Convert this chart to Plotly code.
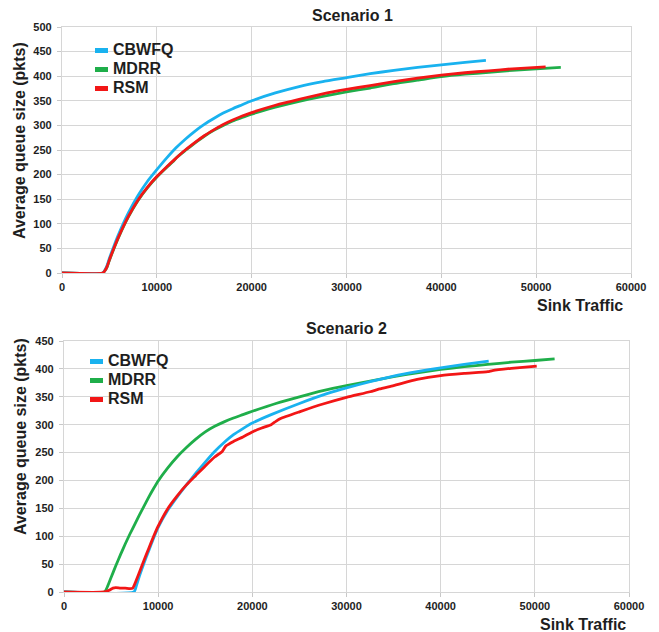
import plotly.graph_objects as go

# ---------------- data ----------------
series_names = ["CBWFQ", "MDRR", "RSM"]
series_colors = ["#19b2ef", "#1fae4a", "#f21616"]

# Scenario 1
s1_cbwfq_x = [0, 4300, 4500, 4750, 5000, 5500, 6000, 7000, 8000, 9000, 10000, 11000, 12000, 13000, 14000,
              15000, 16000, 17000, 18000, 19000, 20000, 22500, 25000, 27500, 30000, 32500, 35000, 37500,
              40000, 42500, 44700]
s1_cbwfq_y = [0, 0, 5, 15, 30, 56, 80, 122, 157, 186, 210, 233, 254, 272, 288,
              302, 314, 325, 334, 342, 350, 366, 379, 389, 397, 405, 412, 418,
              423, 428, 432]

s1_mdrr_x = [0, 4300, 4500, 4750, 5000, 5500, 6000, 7000, 8000, 9000, 10000, 11000, 11800, 12100, 13000,
             14000, 15000, 16000, 17000, 18000, 19000, 20000, 22500, 25000, 27500, 30000, 32500, 35000,
             37500, 40000, 42500, 45000, 47500, 50000, 52600]
s1_mdrr_y = [0, 0, 4, 12, 26, 51, 74, 114, 147, 173, 195, 214, 228, 235, 249,
             264, 278, 290, 300, 309, 316, 323, 337, 349, 359, 368, 376, 385,
             392, 399, 404, 408, 412, 415, 418]

s1_rsm_x = [0, 4300, 4500, 4750, 5000, 5500, 6000, 7000, 8000, 9000, 10000, 11000, 12000, 13000, 14000,
            15000, 16000, 17000, 18000, 19000, 20000, 22500, 25000, 27500, 30000, 32500, 35000, 37500,
            40000, 42500, 45000, 47500, 51000]
s1_rsm_y = [0, 0, 4, 13, 27, 52, 75, 115, 148, 174, 196, 215, 233, 250, 265,
            279, 291, 302, 311, 319, 326, 341, 353, 364, 373, 381, 389, 396,
            402, 407, 411, 415, 419]

# Scenario 2
s2_cbwfq_x = [0, 7430, 7700, 8000, 8500, 9000, 9500, 10000, 11000, 12000, 13000, 14000, 15000, 16000,
              17000, 18000, 19000, 20000, 22000, 25000, 28000, 30000, 32500, 35000, 37500, 40000, 42500,
              45100]
s2_cbwfq_y = [0, 0, 12, 28, 52, 74, 96, 116, 146, 170, 192, 213, 233, 252,
              268, 282, 293, 303, 318, 338, 356, 366, 377, 387, 395, 402, 408,
              414]

s2_mdrr_x = [0, 4300, 4600, 5000, 5500, 6000, 6500, 7000, 7500, 8000, 8500, 9000, 9500, 10000, 11000,
             12000, 13000, 14000, 15000, 16000, 17000, 18000, 19000, 20000, 22500, 25000, 27500, 30000,
             32500, 35000, 37500, 40000, 42500, 45000, 47500, 50000, 52100]
s2_mdrr_y = [0, 0, 9, 26, 47, 67, 86, 104, 121, 138, 154, 170, 185, 199, 222,
             242, 259, 274, 287, 297, 305, 312, 318, 324, 338, 350, 361, 370,
             378, 386, 393, 399, 404, 408, 412, 415, 418]

s2_rsm_x = [0, 4300, 4800, 5200, 5500, 6000, 6500, 7000, 7300, 7600, 8000, 8500, 9000, 9500, 10000,
            11000, 12000, 13000, 14000, 15000, 16000, 16800, 17200, 18000, 19000, 20000, 21000, 22000,
            22500, 23000, 25000, 27500, 30000, 32500, 33500, 35000, 37500, 40000, 42500, 45000, 45500,
            47500, 50200]
s2_rsm_y = [0, 0, 3, 7, 8, 7, 7, 6, 7, 18, 35, 57, 78, 99, 118,
            149, 172, 192, 209, 226, 242, 252, 262, 270, 278, 287, 294, 300,
            306, 311, 323, 337, 349, 359, 364, 370, 381, 388, 392, 395, 397,
            401, 405]

x_ticks = [0, 10000, 20000, 30000, 40000, 50000, 60000]

scenario1 = [(s1_cbwfq_x, s1_cbwfq_y), (s1_mdrr_x, s1_mdrr_y), (s1_rsm_x, s1_rsm_y)]
scenario2 = [(s2_cbwfq_x, s2_cbwfq_y), (s2_mdrr_x, s2_mdrr_y), (s2_rsm_x, s2_rsm_y)]

# ---------------- figure ----------------
W, H = 659, 632
FONT = "Liberation Sans, Arial, sans-serif"
GRID = "#d6d6d6"
TXT = "#1e1e1e"

fig = go.Figure()

# draw order: MDRR first, then CBWFQ, then RSM on top (as in reference)
order = [1, 0, 2]
for (data, xa, ya, lg) in [(scenario1, "x", "y", "legend"), (scenario2, "x2", "y2", "legend2")]:
    for i in order:
        xs, ys = data[i]
        fig.add_trace(go.Scatter(x=xs, y=ys, mode="lines", xaxis=xa, yaxis=ya,
                                 line=dict(color=series_colors[i], width=2.8, shape="spline", smoothing=0.5),
                                 showlegend=False, name=series_names[i], hoverinfo="skip"))
    for i in range(3):
        fig.add_trace(go.Scatter(x=[None], y=[None], mode="lines", xaxis=xa, yaxis=ya,
                                 line=dict(color=series_colors[i], width=5, dash="0px,17px,13px,10px"),
                                 name="<span style='font-size:16px'>" + series_names[i] + "</span>",
                                 legend=lg, showlegend=True))


def px2x(p):
    return p / W


def py2y(p):
    return 1 - p / H


axis_common = dict(showgrid=True, gridcolor=GRID, gridwidth=1.3, zeroline=False,
                   showline=True, linecolor=GRID, linewidth=1.3, mirror=True,
                   ticks="outside", ticklen=4, tickcolor="#c8c8c8", tickwidth=1,
                   automargin=False,
                   tickfont=dict(family=FONT, size=11, color=TXT, weight="bold"))

fig.update_layout(
    width=W, height=H,
    margin=dict(l=0, r=0, t=0, b=0, autoexpand=False),
    paper_bgcolor="white", plot_bgcolor="white",
    xaxis=dict(domain=[px2x(62), px2x(631)], range=[0, 60000], tickvals=x_ticks, tickformat="d",
               anchor="y", **axis_common),
    yaxis=dict(domain=[py2y(273), py2y(27)], range=[0, 500], dtick=50, anchor="x",
               ticklabelstandoff=3, **axis_common),
    xaxis2=dict(domain=[px2x(64), px2x(629)], range=[0, 60000], tickvals=x_ticks, tickformat="d",
                anchor="y2", **axis_common),
    yaxis2=dict(domain=[py2y(592), py2y(341)], range=[0, 450], dtick=50, anchor="x2",
                ticklabelstandoff=3, **axis_common),
    legend=dict(x=px2x(73), y=py2y(36), xanchor="left", yanchor="top", bgcolor="rgba(0,0,0,0)",
                font=dict(family=FONT, size=12, color=TXT, weight="bold"), itemwidth=30,
                tracegroupgap=0),
    legend2=dict(x=px2x(68), y=py2y(347), xanchor="left", yanchor="top", bgcolor="rgba(0,0,0,0)",
                 font=dict(family=FONT, size=12, color=TXT, weight="bold"), itemwidth=30,
                 tracegroupgap=0),
    showlegend=True,
)

title_font = dict(family=FONT, size=16, color=TXT, weight="bold")
annots = [
    dict(text="Scenario 1", x=px2x(352), y=py2y(15)),
    dict(text="Scenario 2", x=px2x(346), y=py2y(328)),
    dict(text="Sink Traffic", x=px2x(580), y=py2y(305)),
    dict(text="Sink Traffic", x=px2x(583), y=py2y(624)),
    dict(text="Average queue size (pkts)", x=px2x(20), y=py2y(141), textangle=-90),
    dict(text="Average queue size (pkts)", x=px2x(20), y=py2y(437), textangle=-90),
]
for a in annots:
    fig.add_annotation(xref="paper", yref="paper", xanchor="center", yanchor="middle",
                       showarrow=False, font=title_font, **a)

fig.write_html("out.html")
